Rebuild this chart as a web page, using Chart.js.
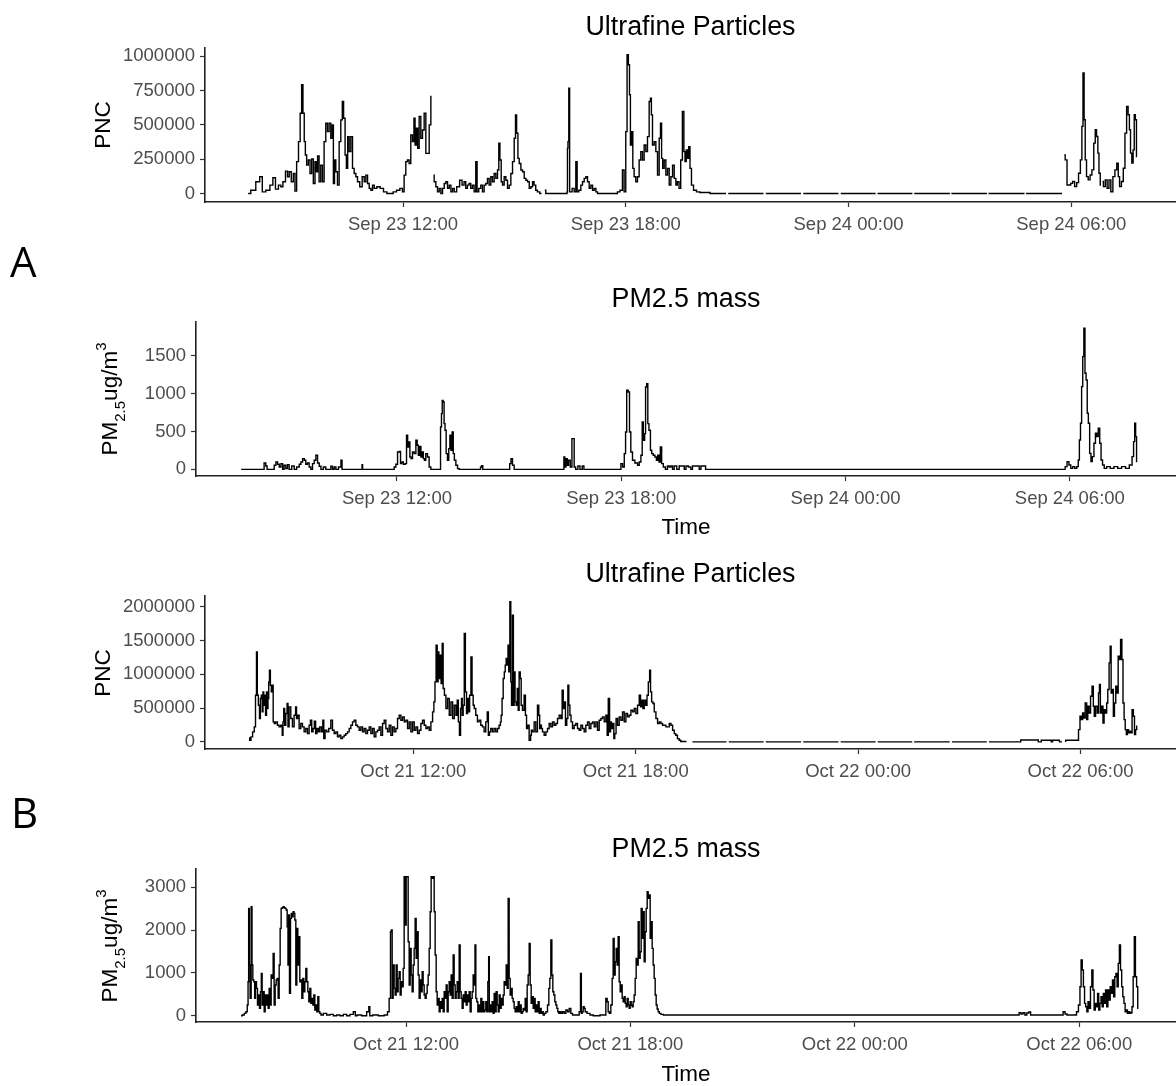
<!DOCTYPE html>
<html><head><meta charset="utf-8">
<script src="https://cdn.jsdelivr.net/npm/chart.js@4.4.0/dist/chart.umd.min.js"></script>
<style>
html,body{margin:0;padding:0;background:#fff;}
#fig{position:relative;width:1176px;height:1086px;overflow:hidden;background:#fff;font-family:"Liberation Sans",Arial,sans-serif;}
canvas{position:absolute;left:0;}
.title{position:absolute;font-size:26.8px;line-height:26.8px;white-space:nowrap;transform:translateX(-50%);color:#000;z-index:2;}
.xlab{position:absolute;font-size:22.5px;line-height:22.5px;white-space:nowrap;transform:translateX(-50%);color:#000;z-index:2;}
.ylab{position:absolute;font-size:22.5px;line-height:22.5px;white-space:nowrap;transform:translate(-50%,-50%) rotate(-90deg);color:#000;z-index:2;}
.sub{font-size:15px;position:relative;top:8px;}
.sup{font-size:15px;position:relative;top:-11px;}
.tag{position:absolute;font-family:"Open Sans",sans-serif;font-size:42px;line-height:42px;color:#000;z-index:2;}
</style></head>
<body>
<div id="fig">
  <canvas id="c1" width="1176" height="204" style="top:38px"></canvas>
  <canvas id="c2" width="1176" height="204" style="top:312px"></canvas>
  <canvas id="c3" width="1176" height="203" style="top:586px"></canvas>
  <canvas id="c4" width="1176" height="203" style="top:859px"></canvas>

  <div class="title" style="left:690.5px;top:13px">Ultrafine Particles</div>
  <div class="title" style="left:686px;top:285px">PM2.5 mass</div>
  <div class="title" style="left:690.5px;top:560px">Ultrafine Particles</div>
  <div class="title" style="left:686px;top:834.5px">PM2.5 mass</div>

  <div class="ylab" style="left:103px;top:125px">PNC</div>
  <div class="ylab" style="left:111px;top:399px">PM<span class="sub">2.5</span>ug/m<span class="sup">3</span></div>
  <div class="ylab" style="left:103px;top:672.5px">PNC</div>
  <div class="ylab" style="left:111px;top:945.5px">PM<span class="sub">2.5</span>ug/m<span class="sup">3</span></div>

  <div class="xlab" style="left:686px;top:516px">Time</div>
  <div class="xlab" style="left:686px;top:1063px">Time</div>

  <div class="tag" style="left:10px;top:240px">A</div>
  <div class="tag" style="left:11px;top:791px">B</div>
</div>
<script>
// ---------- tick definitions ----------
const xTickHours = [12, 18, 24, 30];
const sepXLabels = ["Sep 23 12:00", "Sep 23 18:00", "Sep 24 00:00", "Sep 24 06:00"];
const octXLabels = ["Oct 21 12:00", "Oct 21 18:00", "Oct 22 00:00", "Oct 22 06:00"];
const sepUfpTicks = [0, 250000, 500000, 750000, 1000000];
const sepPmTicks = [0, 500, 1000, 1500];
const octUfpTicks = [0, 500000, 1000000, 1500000, 2000000];
const octPmTicks = [0, 1000, 2000, 3000];

// ---------- Panel A: Ultrafine particles (hours since Sep 23 00:00) ----------
const sepUfpT = [7.83,7.97,8.10,8.18,8.24,8.37,8.46,8.53,8.60,8.69,8.73,8.80,8.87,8.91,8.96,9.02,9.07,9.11,9.16,9.21,9.25,9.29,9.32,9.36,9.38,9.43,9.47,9.52,9.56,9.61,9.65,9.68,9.72,9.76,9.81,9.85,9.90,9.94,9.99,10.03,10.08,10.11,10.14,10.17,10.21,10.26,10.30,10.35,10.38,10.42,10.46,10.49,10.53,10.57,10.62,10.66,10.71,10.75,10.80,10.87,10.93,10.98,11.02,11.07,11.11,11.16,11.20,11.25,11.34,11.43,11.52,11.61,11.69,11.78,11.87,11.96,12.01,12.05,12.10,12.14,12.19,12.23,12.28,12.31,12.34,12.38,12.41,12.46,12.50,12.55,12.59,12.64,12.68,12.73,12.77,12.79,12.82,12.86,12.91,12.95,13.00,13.04,13.09,13.13,13.18,13.22,13.27,13.31,13.36,13.40,13.49,13.56,13.62,13.67,13.71,13.76,13.80,13.85,13.89,13.94,13.98,14.01,14.07,14.12,14.16,14.21,14.25,14.30,14.34,14.39,14.43,14.48,14.52,14.57,14.59,14.63,14.66,14.70,14.75,14.79,14.84,14.88,14.93,14.97,15.02,15.04,15.08,15.11,15.15,15.20,15.24,15.29,15.33,15.38,15.42,15.47,15.51,15.55,15.60,15.64,15.73,15.78,15.82,15.87,16.41,16.425,16.434,16.452,16.479,16.497,16.52,16.59,16.63,16.68,16.70,16.77,16.81,16.86,16.90,16.95,16.99,17.04,17.08,17.13,17.17,17.22,17.26,17.75,17.80,17.89,17.93,17.98,18.02,18.05,18.09,18.11,18.14,18.18,18.20,18.25,18.29,18.34,18.38,18.43,18.47,18.52,18.56,18.61,18.65,18.68,18.70,18.74,18.79,18.83,18.88,18.92,18.95,18.98,19.01,19.06,19.10,19.15,19.19,19.24,19.28,19.33,19.37,19.41,19.46,19.50,19.55,19.58,19.61,19.65,19.68,19.71,19.75,19.79,19.86,19.95,20.04,20.50,20.70,20.72,20.76,21.71,21.73,21.77,22.72,22.74,22.78,23.73,23.75,23.79,24.73,24.75,24.78,25.72,25.74,25.77,26.73,26.75,26.77,27.73,27.75,27.77,28.74,28.76,28.78,29.75,29.78,29.81,29.86,29.91,29.96,30.01,30.06,30.12,30.17,30.22,30.27,30.30,30.33,30.36,30.39,30.43,30.48,30.53,30.58,30.63,30.66,30.70,30.73,30.76,30.80,30.82,30.84,30.89,30.94,30.99,31.04,31.09,31.15,31.20,31.25,31.28,31.32,31.38,31.42,31.47,31.51,31.55,31.58,31.61,31.65,31.68,31.71,31.74,31.77];
const sepUfpPNC = [0,24000,85000,122000,12000,24000,61000,115000,32000,61000,49000,85000,163000,122000,158000,85000,146000,17000,232000,378000,585000,792000,585000,378000,280000,207000,244000,146000,251000,73000,232000,158000,273000,85000,207000,85000,378000,512000,451000,512000,402000,500000,73000,244000,158000,61000,378000,536000,670000,548000,280000,183000,414000,305000,414000,183000,146000,122000,85000,49000,122000,85000,134000,73000,37000,24000,61000,37000,49000,37000,12000,0,0,12000,24000,37000,12000,134000,232000,244000,219000,426000,378000,548000,353000,475000,329000,561000,402000,463000,585000,292000,292000,500000,707000,null,134000,85000,49000,12000,37000,0,37000,73000,85000,37000,61000,12000,37000,12000,49000,97000,61000,85000,37000,61000,73000,37000,61000,12000,232000,12000,37000,61000,12000,61000,73000,110000,61000,122000,85000,146000,110000,171000,366000,244000,85000,61000,122000,97000,37000,61000,146000,232000,402000,573000,439000,256000,219000,171000,158000,110000,97000,85000,37000,49000,85000,61000,24000,12000,0,null,24000,0,0,12000,329000,378000,768000,12000,12000,37000,12000,232000,12000,24000,61000,85000,110000,122000,85000,37000,61000,24000,37000,12000,0,0,12000,24000,171000,12000,451000,1011000,938000,719000,353000,451000,183000,122000,85000,122000,244000,305000,244000,353000,305000,414000,670000,695000,573000,353000,378000,305000,134000,402000,512000,256000,183000,244000,134000,183000,61000,122000,207000,110000,61000,85000,37000,244000,597000,305000,232000,317000,256000,341000,183000,61000,24000,12000,7000,0,0,null,0,0,null,0,0,null,0,0,null,0,0,null,0,0,null,0,0,null,0,0,null,0,0,null,0,0,null,281000,245000,62000,62000,74000,87000,50000,79000,147000,245000,489000,879000,537000,245000,123000,99000,135000,172000,367000,464000,415000,294000,147000,62000,null,87000,50000,99000,38000,99000,13000,123000,172000,221000,123000,50000,87000,184000,440000,635000,574000,464000,294000,221000,318000,574000,537000,269000];

// ---------- Panel A: PM2.5 mass (hours since Sep 23 00:00) ----------
const sepPmT = [7.83,8.42,8.47,8.51,8.54,8.69,8.74,8.78,8.83,8.87,8.92,8.96,9.00,9.05,9.09,9.14,9.23,9.27,9.36,9.41,9.45,9.50,9.54,9.58,9.63,9.67,9.72,9.76,9.81,9.85,9.90,9.94,9.99,10.07,10.12,10.21,10.25,10.30,10.34,10.39,10.48,10.52,10.54,11.06,11.07,11.09,11.90,11.95,11.99,12.04,12.08,12.11,12.14,12.20,12.24,12.27,12.30,12.33,12.36,12.39,12.44,12.48,12.53,12.55,12.59,12.62,12.66,12.69,12.72,12.75,12.79,12.84,12.88,12.93,13.15,13.18,13.20,13.22,13.25,13.27,13.30,13.33,13.37,13.40,13.43,13.46,13.49,13.52,13.55,13.60,13.64,13.69,14.22,14.25,14.28,14.31,15.00,15.03,15.07,15.11,15.16,16.45,16.48,16.50,16.54,16.57,16.61,16.66,16.70,16.73,16.75,16.81,16.87,16.92,16.99,17.01,17.97,18.01,18.06,18.10,18.13,18.16,18.21,18.23,18.28,18.32,18.41,18.46,18.50,18.55,18.57,18.61,18.64,18.66,18.70,18.72,18.76,18.80,18.83,18.88,18.92,18.96,18.99,19.03,19.06,19.10,19.15,19.21,19.26,19.30,19.35,19.39,19.44,19.53,19.57,19.66,19.71,19.75,19.84,19.88,19.93,20.06,20.11,20.15,20.24,20.27,29.85,29.90,29.95,30.00,30.05,30.10,30.16,30.21,30.24,30.27,30.30,30.33,30.36,30.39,30.42,30.45,30.48,30.51,30.55,30.58,30.62,30.67,30.70,30.74,30.78,30.82,30.85,30.90,30.94,31.03,31.13,31.23,31.33,31.44,31.54,31.64,31.69,31.72,31.75,31.77,31.80];
const sepPmMass = [0,0,84,44,0,0,53,97,66,31,75,0,53,9,62,0,44,0,31,66,97,141,119,66,84,31,0,75,119,185,84,40,0,31,0,0,40,0,31,0,31,119,0,0,62,0,0,31,66,229,237,75,97,66,75,449,295,361,163,141,229,207,383,317,185,303,163,229,141,119,207,163,31,0,0,559,734,910,888,603,515,207,119,273,449,251,493,207,119,53,9,0,0,31,48,0,0,75,141,53,0,0,163,31,141,53,119,31,405,405,31,0,44,0,44,0,0,75,31,207,493,1042,1020,493,229,119,84,53,97,185,625,383,471,1086,1130,603,515,251,207,185,163,119,185,97,295,75,31,0,44,31,44,0,44,0,44,44,0,44,31,0,44,44,0,44,44,0,0,35,101,57,13,35,13,35,123,387,607,1091,1487,1860,1267,1179,739,607,211,101,167,343,475,431,541,343,123,57,13,35,13,35,13,35,13,57,167,365,607,431,101];

// ---------- Panel B: Ultrafine particles (hours since Oct 21 00:00) ----------
const octUfpT = [7.57,7.60,7.64,7.69,7.73,7.757,7.783,7.801,7.84,7.86,7.89,7.91,7.94,7.95,7.98,8.00,8.03,8.05,8.07,8.09,8.11,8.13,8.16,8.18,8.21,8.23,8.27,8.31,8.36,8.40,8.45,8.48,8.49,8.52,8.54,8.58,8.61,8.63,8.67,8.72,8.76,8.81,8.84,8.86,8.90,8.94,8.99,9.03,9.08,9.12,9.17,9.21,9.24,9.28,9.31,9.35,9.38,9.42,9.46,9.49,9.55,9.57,9.60,9.64,9.69,9.75,9.80,9.84,9.89,9.93,9.98,10.02,10.07,10.11,10.16,10.20,10.25,10.29,10.34,10.38,10.43,10.47,10.52,10.56,10.61,10.65,10.70,10.74,10.79,10.83,10.88,10.92,10.97,11.01,11.06,11.10,11.15,11.19,11.24,11.28,11.33,11.37,11.42,11.46,11.51,11.55,11.60,11.64,11.69,11.73,11.78,11.82,11.87,11.91,11.96,12.00,12.05,12.09,12.14,12.18,12.23,12.27,12.32,12.36,12.41,12.45,12.50,12.54,12.57,12.60,12.63,12.66,12.68,12.70,12.73,12.77,12.79,12.82,12.86,12.90,12.95,12.99,13.04,13.08,13.13,13.17,13.20,13.23,13.26,13.29,13.31,13.33,13.36,13.39,13.42,13.45,13.48,13.50,13.54,13.57,13.60,13.63,13.66,13.71,13.75,13.80,13.84,13.89,13.93,13.98,14.01,14.04,14.07,14.11,14.16,14.20,14.25,14.29,14.34,14.36,14.38,14.41,14.44,14.47,14.49,14.52,14.55,14.56,14.59,14.62,14.64,14.66,14.69,14.71,14.73,14.76,14.79,14.82,14.84,14.87,14.90,14.92,14.97,15.01,15.04,15.07,15.10,15.15,15.18,15.19,15.24,15.28,15.33,15.37,15.40,15.42,15.45,15.46,15.51,15.55,15.60,15.64,15.69,15.73,15.78,15.82,15.87,15.91,15.96,16.00,16.03,16.06,16.09,16.12,16.16,16.18,16.21,16.24,16.27,16.32,16.36,16.41,16.45,16.50,16.54,16.59,16.63,16.68,16.72,16.77,16.81,16.86,16.90,16.95,16.99,17.04,17.08,17.13,17.17,17.22,17.24,17.28,17.31,17.33,17.36,17.40,17.42,17.45,17.49,17.53,17.58,17.62,17.67,17.71,17.76,17.80,17.85,17.89,17.94,17.98,18.03,18.07,18.12,18.14,18.18,18.21,18.25,18.29,18.32,18.36,18.39,18.41,18.45,18.48,18.52,18.57,18.61,18.66,18.70,18.75,18.79,18.84,18.88,18.93,18.97,19.02,19.06,19.10,19.15,19.19,19.24,19.37,19.40,19.53,20.45,20.48,20.51,21.45,21.48,21.51,22.46,22.49,22.52,23.47,23.50,23.53,24.47,24.50,24.53,25.46,25.48,25.51,26.47,26.50,26.53,27.47,27.50,27.53,28.37,28.40,28.85,28.87,28.93,28.95,29.20,29.22,29.27,29.42,29.44,29.50,29.52,29.58,29.62,29.85,29.92,29.97,30.00,30.04,30.07,30.10,30.15,30.18,30.21,30.25,30.29,30.33,30.36,30.38,30.43,30.47,30.50,30.52,30.55,30.59,30.62,30.65,30.69,30.72,30.75,30.79,30.81,30.84,30.87,30.90,30.93,30.97,31.00,31.03,31.06,31.10,31.13,31.16,31.19,31.22,31.25,31.28,31.31,31.34,31.37,31.41,31.44,31.47,31.50,31.53];
const octUfpPNC = [59000,25000,74000,148000,222000,691000,1333000,691000,543000,346000,642000,691000,444000,741000,543000,691000,395000,741000,494000,642000,889000,1062000,839000,741000,839000,296000,272000,296000,247000,222000,247000,99000,296000,494000,247000,420000,568000,222000,518000,346000,222000,395000,518000,346000,395000,198000,272000,222000,148000,198000,123000,247000,321000,148000,198000,306000,123000,198000,148000,222000,148000,321000,49000,173000,148000,198000,321000,173000,123000,148000,74000,99000,49000,74000,99000,123000,148000,198000,247000,296000,321000,247000,222000,173000,222000,148000,198000,123000,173000,222000,123000,198000,74000,148000,173000,222000,99000,272000,321000,198000,148000,247000,99000,222000,148000,198000,346000,395000,321000,370000,296000,321000,198000,296000,148000,296000,173000,222000,123000,173000,272000,321000,247000,198000,222000,173000,296000,444000,593000,889000,1432000,889000,1333000,938000,1284000,864000,1457000,790000,691000,494000,642000,395000,593000,346000,543000,395000,617000,296000,99000,494000,642000,395000,543000,1605000,741000,420000,642000,444000,691000,1259000,691000,543000,494000,395000,296000,321000,247000,222000,148000,296000,444000,99000,148000,198000,148000,198000,148000,198000,247000,296000,395000,642000,938000,1037000,1136000,1235000,1136000,1432000,1037000,2074000,889000,543000,1876000,543000,1037000,593000,543000,790000,469000,1037000,938000,543000,469000,691000,395000,198000,247000,25000,99000,173000,148000,296000,148000,543000,395000,198000,247000,198000,148000,99000,148000,198000,272000,222000,296000,247000,272000,346000,395000,346000,765000,494000,593000,247000,346000,839000,543000,395000,296000,198000,247000,272000,198000,173000,247000,198000,148000,247000,296000,198000,272000,296000,222000,296000,173000,321000,346000,370000,296000,395000,99000,642000,148000,296000,198000,272000,49000,123000,346000,247000,370000,321000,444000,296000,420000,370000,395000,469000,444000,494000,420000,543000,691000,518000,617000,494000,617000,543000,691000,889000,1062000,741000,593000,568000,444000,346000,272000,296000,272000,247000,247000,222000,222000,272000,247000,173000,123000,99000,49000,25000,5000,5000,null,0,0,null,0,0,null,0,0,null,0,0,null,0,0,null,0,0,null,0,0,null,0,0,null,0,0,29000,29000,0,0,25000,25000,0,25000,25000,0,0,null,10000,25000,25000,24000,182000,380000,330000,429000,355000,577000,330000,528000,429000,676000,824000,528000,380000,528000,429000,725000,849000,429000,528000,281000,478000,429000,577000,775000,1170000,1417000,725000,775000,380000,577000,824000,725000,1268000,1219000,1515000,1219000,577000,330000,182000,108000,182000,133000,158000,133000,478000,380000,108000,182000,232000];

// ---------- Panel B: PM2.5 mass (hours since Oct 21 00:00) ----------
const octPmT = [7.59,7.65,7.70,7.74,7.77,7.784,7.802,7.82,7.846,7.873,7.891,7.918,7.944,7.962,7.989,8.016,8.042,8.069,8.096,8.123,8.140,8.167,8.194,8.221,8.247,8.274,8.301,8.328,8.354,8.381,8.408,8.435,8.461,8.488,8.515,8.542,8.568,8.595,8.622,8.648,8.675,8.702,8.729,8.755,8.782,8.809,8.836,8.853,8.871,8.898,8.925,8.943,8.969,8.996,9.014,9.041,9.067,9.094,9.121,9.148,9.174,9.201,9.228,9.255,9.281,9.308,9.335,9.362,9.388,9.415,9.442,9.468,9.495,9.522,9.549,9.575,9.602,9.629,9.656,9.682,9.709,9.745,9.834,9.923,10.012,10.101,10.190,10.280,10.369,10.458,10.547,10.636,10.654,10.725,10.903,10.993,11.019,11.046,11.171,11.349,11.483,11.527,11.572,11.599,11.617,11.643,11.670,11.697,11.723,11.750,11.777,11.804,11.830,11.857,11.884,11.911,11.937,11.964,11.991,12.018,12.044,12.071,12.098,12.124,12.151,12.178,12.205,12.231,12.258,12.285,12.312,12.338,12.365,12.392,12.419,12.445,12.472,12.499,12.526,12.552,12.579,12.606,12.633,12.659,12.686,12.713,12.740,12.766,12.793,12.820,12.847,12.873,12.900,12.927,12.954,12.980,13.007,13.034,13.060,13.087,13.114,13.141,13.167,13.194,13.221,13.248,13.274,13.301,13.328,13.355,13.381,13.408,13.435,13.461,13.488,13.515,13.542,13.568,13.595,13.622,13.649,13.675,13.702,13.729,13.756,13.782,13.809,13.836,13.854,13.880,13.907,13.934,13.961,13.987,14.014,14.041,14.068,14.094,14.121,14.148,14.175,14.201,14.219,14.237,14.264,14.290,14.317,14.344,14.371,14.397,14.424,14.451,14.478,14.504,14.531,14.558,14.585,14.611,14.638,14.665,14.692,14.718,14.745,14.772,14.799,14.825,14.852,14.879,14.905,14.932,14.959,14.986,15.012,15.039,15.066,15.093,15.119,15.146,15.173,15.200,15.226,15.253,15.280,15.307,15.333,15.360,15.387,15.414,15.440,15.467,15.494,15.520,15.547,15.574,15.601,15.627,15.654,15.681,15.716,15.761,15.806,15.832,15.859,15.886,15.913,15.939,15.966,15.993,16.020,16.046,16.073,16.100,16.126,16.162,16.207,16.252,16.296,16.341,16.385,16.430,16.475,16.608,16.653,16.679,16.697,16.724,16.751,16.777,16.804,16.875,16.964,17.054,17.321,17.365,17.392,17.419,17.454,17.499,17.526,17.552,17.579,17.606,17.633,17.659,17.686,17.713,17.740,17.766,17.793,17.820,17.847,17.873,17.900,17.927,17.954,17.980,18.007,18.034,18.060,18.087,18.114,18.141,18.167,18.194,18.221,18.248,18.274,18.301,18.328,18.355,18.381,18.408,18.435,18.462,18.488,18.515,18.542,18.569,18.595,18.622,18.649,18.676,18.702,18.729,18.756,18.792,18.836,18.925,19.104,28.368,28.419,28.470,28.521,28.573,28.624,28.675,28.726,29.544,29.595,29.647,29.698,29.902,29.954,30.005,30.035,30.066,30.097,30.128,30.158,30.189,30.220,30.251,30.281,30.322,30.353,30.383,30.414,30.445,30.476,30.506,30.537,30.568,30.598,30.629,30.660,30.690,30.721,30.752,30.782,30.813,30.844,30.874,30.905,30.936,30.967,30.997,31.028,31.059,31.089,31.120,31.151,31.181,31.212,31.243,31.274,31.304,31.335,31.366,31.396,31.427,31.458,31.488,31.519,31.550,31.580];
const octPmMass = [0,16,55,93,249,794,2508,1184,405,2547,1184,833,794,405,794,639,249,483,171,561,989,249,561,93,483,249,483,171,639,249,950,872,1456,249,716,833,872,405,1184,2040,2508,2523,2547,2523,2508,2469,2079,1184,2352,522,2274,2391,2313,2430,2391,2235,716,2040,1184,1846,794,833,405,872,561,794,1106,794,561,327,639,288,405,249,483,132,249,93,444,93,55,16,55,16,31,0,16,0,31,0,31,93,0,16,0,93,210,0,16,0,16,93,405,1963,2002,405,1184,639,483,1184,561,872,1028,483,794,678,1106,3248,2118,3248,3248,1729,716,1573,950,561,1184,1573,2274,1340,1963,950,405,833,561,1028,716,483,405,522,716,950,1573,2430,3248,3209,3248,2430,1417,561,249,405,93,327,171,405,93,561,405,716,93,561,794,483,950,405,1417,716,405,561,794,405,1651,561,405,171,483,327,561,249,483,327,561,93,405,561,950,716,1651,405,327,93,249,93,405,93,327,93,132,327,93,794,1378,93,249,93,327,55,522,93,561,249,93,483,171,405,249,483,794,716,1184,639,2741,872,483,639,405,327,171,93,210,93,327,93,249,55,93,171,132,405,93,716,950,1690,716,288,444,171,405,93,249,93,327,55,171,55,93,16,55,93,249,639,872,1768,950,561,483,327,249,171,93,55,93,55,93,55,132,93,171,55,16,16,93,989,55,93,210,171,93,55,16,0,16,405,327,93,55,249,872,1807,950,1262,1573,1184,1846,794,561,716,405,327,444,288,210,405,249,171,327,249,210,327,483,872,1340,1184,2196,1340,1495,2508,1807,2430,1262,1963,2508,2897,2741,2819,1807,2196,1573,1184,872,483,249,156,93,55,31,16,15,16,70,39,70,16,62,86,16,16,93,39,16,16,93,249,678,1301,1067,678,288,210,93,327,171,678,1067,600,132,288,210,522,132,288,444,210,522,288,600,210,600,366,678,522,833,444,911,989,678,1223,1651,1067,678,444,288,93,132,55,93,55,70,210,911,1846,911,678,171];

// ---------- build charts ----------
const TICK_COLOR = '#4d4d4d';
const AXIS_COLOR = '#222222';

function makePanel(canvasId, times, values, cfg) {
  const points = times.map((t, i) => ({ x: t, y: values[i] }));
  return new Chart(document.getElementById(canvasId), {
    type: 'line',
    data: { datasets: [{
      data: points,
      borderColor: '#000000',
      borderWidth: 1.4,
      pointRadius: 0,
      tension: 0,
      stepped: 'middle',
      fill: false,
      spanGaps: false,
      borderJoinStyle: 'miter'
    }]},
    options: {
      responsive: false,
      animation: false,
      events: [],
      layout: { padding: { top: cfg.padTop, left: 0, right: 0, bottom: 0 } },
      plugins: { legend: { display: false }, tooltip: { enabled: false }, title: { display: false } },
      scales: {
        x: {
          type: 'linear',
          min: cfg.xmin, max: cfg.xmax,
          afterBuildTicks: (s) => { s.ticks = xTickHours.map(v => ({ value: v })); },
          afterFit: (s) => { s.height = 40; s.paddingLeft = 0; s.paddingRight = 0; },
          ticks: {
            autoSkip: false, maxRotation: 0, padding: 6.5,
            color: TICK_COLOR,
            font: { family: 'Liberation Sans', size: 18.5 },
            callback: (v, i) => cfg.xLabels[i]
          },
          grid: { drawOnChartArea: false, drawTicks: true, tickLength: 5, tickColor: '#333333', tickWidth: 1.2 },
          border: { display: true, color: AXIS_COLOR, width: 1.6 }
        },
        y: {
          type: 'linear',
          min: cfg.ymin, max: cfg.ymax,
          afterBuildTicks: (s) => { s.ticks = cfg.yTicks.map(v => ({ value: v })); },
          afterFit: (s) => { s.width = cfg.left; s.paddingTop = 0; s.paddingBottom = 0; },
          ticks: {
            padding: 5,
            color: TICK_COLOR,
            font: { family: 'Liberation Sans', size: 18.5 },
            callback: (v) => String(v)
          },
          grid: { drawOnChartArea: false, drawTicks: true, tickLength: 5, tickColor: '#333333', tickWidth: 1.2 },
          border: { display: true, color: AXIS_COLOR, width: 1.6 }
        }
      }
    }
  });
}

makePanel('c1', sepUfpT, sepUfpPNC, { padTop: 10, left: 205, xmin: 6.667, xmax: 32.82, ymin: -62000, ymax: 1060000, yTicks: sepUfpTicks, xLabels: sepXLabels });
makePanel('c2', sepPmT, sepPmMass, { padTop: 10, left: 196, xmin: 6.623, xmax: 32.84, ymin: -88, ymax: 1943, yTicks: sepPmTicks, xLabels: sepXLabels });
makePanel('c3', octUfpT, octUfpPNC, { padTop: 10, left: 205, xmin: 6.381, xmax: 32.575, ymin: -105000, ymax: 2160000, yTicks: octUfpTicks, xLabels: octXLabels });
makePanel('c4', octPmT, octPmMass, { padTop: 10, left: 196, xmin: 6.385, xmax: 32.588, ymin: -147, ymax: 3428, yTicks: octPmTicks, xLabels: octXLabels });
</script>
</body></html>
